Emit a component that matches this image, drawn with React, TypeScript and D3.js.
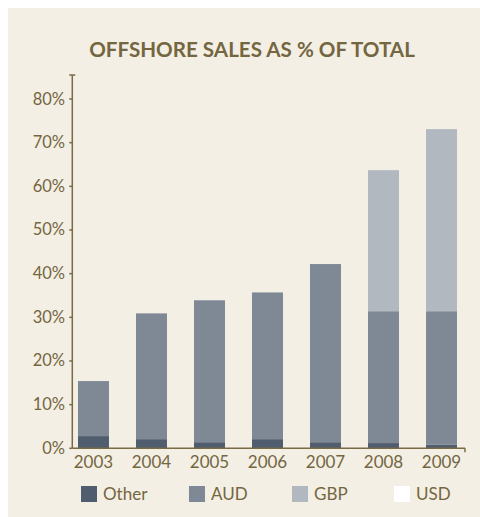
import React from "react";
import * as d3 from "d3";

const years = ["2003", "2004", "2005", "2006", "2007", "2008", "2009"];
const seriesNames = ["Other", "AUD", "GBP", "USD"];
const otherValues = [2.8, 2.1, 1.4, 2.1, 1.4, 1.2, 0.8];
const audValues = [12.6, 28.8, 32.5, 33.6, 40.8, 30.2, 30.6];
const gbpValues = [0, 0, 0, 0, 0, 32.3, 41.7];
const usdValues = [0, 0, 0, 0, 0, 0, 0];
const yTicks = [0, 10, 20, 30, 40, 50, 60, 70, 80];
const title = "OFFSHORE SALES AS % OF TOTAL";

const colors = ["#505d6e", "#7f8895", "#b1b8c0", "#ffffff"];
const textColor = "#74663f";
const axisColor = "#7a6a45";
const bg = "#f3efe5";
const font = "Lato, 'Open Sans', sans-serif";

export default function App() {
  const W = 480, H = 517;
  const x0 = 72.3, yBase = 448.3;
  const y = d3.scaleLinear().domain([0, 80]).range([yBase, 99]);
  const x = d3.scaleBand<string>().domain(years).range([78, 457]).paddingInner(0.466).paddingOuter(0);

  const rows = years.map((yr, i) => ({
    year: yr,
    Other: otherValues[i],
    AUD: audValues[i],
    GBP: gbpValues[i],
    USD: usdValues[i],
  }));
  const stacked = d3.stack<any>().keys(seriesNames)(rows);

  const legendX = [81, 189, 292, 394];

  return (
    <svg width={W} height={H} style={{ position: "absolute", left: 0, top: 0 }}>
      <rect x={8} y={8} width={W - 8} height={H - 8} fill={bg} />
      <text x={252} y={57} textAnchor="middle" fontFamily={font} fontWeight={700} fontSize={20.6} fill={textColor}>
        {title}
      </text>
      {stacked.map((s, si) => (
        <g key={seriesNames[si]} fill={colors[si]}>
          {s.map((d, i) => (
            <rect key={i} x={x(years[i])} width={x.bandwidth()} y={y(d[1])} height={Math.max(0, y(d[0]) - y(d[1]))} />
          ))}
        </g>
      ))}
      {/* y axis */}
      <line x1={x0} x2={x0} y1={75} y2={yBase} stroke={axisColor} strokeWidth={1.5} />
      <line x1={x0 - 3} x2={x0 + 3} y1={75} y2={75} stroke={axisColor} strokeWidth={1.5} />
      {yTicks.map((t) => (
        <g key={t}>
          <line x1={x0 - 3} x2={x0} y1={y(t)} y2={y(t)} stroke={axisColor} strokeWidth={1.5} />
          <text x={65} y={y(t) + 5.5} textAnchor="end" fontFamily={font} fontSize={16.5} fill={textColor}>
            {t + "%"}
          </text>
        </g>
      ))}
      {/* x axis */}
      <line x1={x0} x2={465} y1={yBase} y2={yBase} stroke={axisColor} strokeWidth={1.5} />
      <line x1={465} x2={465} y1={yBase} y2={yBase + 4} stroke={axisColor} strokeWidth={1.5} />
      {years.map((yr) => (
        <text key={yr} x={(x(yr) as number) + x.bandwidth() / 2} y={468} textAnchor="middle" fontFamily={font} fontSize={17} fill={textColor}>
          {yr}
        </text>
      ))}
      {/* legend */}
      {seriesNames.map((n, i) => (
        <g key={n}>
          <rect x={legendX[i]} y={486} width={16} height={16} fill={colors[i]} />
          <text x={legendX[i] + 22} y={500} fontFamily={font} fontSize={17} fill={textColor}>
            {n}
          </text>
        </g>
      ))}
    </svg>
  );
}
